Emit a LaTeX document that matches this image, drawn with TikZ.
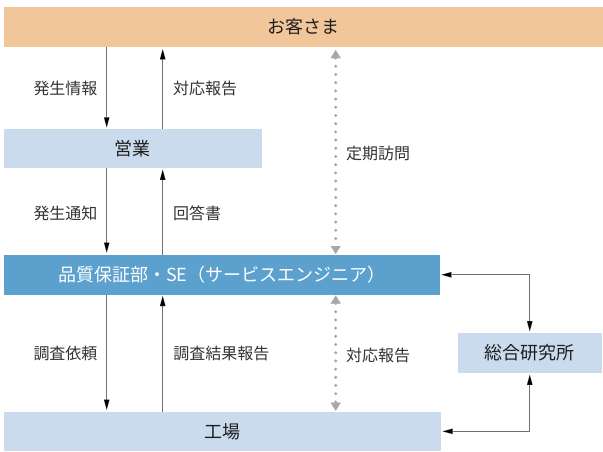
\documentclass[tikz,border=0pt]{standalone}
\usepackage{fontspec}
\setmainfont{Noto Sans CJK JP}
\usetikzlibrary{arrows.meta}
\definecolor{custc}{HTML}{F0C69A}
\definecolor{lightb}{HTML}{C9DBEC}
\definecolor{midb}{HTML}{5CA1CD}
\definecolor{txt}{HTML}{1E1E1E}
\definecolor{lbl}{HTML}{333333}
\definecolor{arrline}{HTML}{707070}
\definecolor{dotc}{HTML}{A8A8A8}
\tikzset{
  box/.style={inner sep=0pt, outer sep=0pt, text=txt, font=\fontsize{18}{20}\selectfont},
  lab/.style={inner sep=0pt, text=lbl, font=\fontsize{16}{18}\selectfont},
  arr/.style={draw=arrline, line width=1.1pt, -{Triangle[length=10pt,width=5.5pt,line width=0.01pt,fill=black]}},
  arrboth/.style={draw=arrline, line width=1.1pt, {Triangle[length=10pt,width=5.5pt,line width=0.01pt,fill=black]}-{Triangle[length=10pt,width=5.5pt,line width=0.01pt,fill=black]}},
  dotarr/.style={draw=dotc, line width=3.3pt, line cap=round, dash pattern=on 0pt off 8.2pt,
    {Triangle[length=8pt,width=10pt,line width=0.01pt,fill=dotc]}-{Triangle[length=8pt,width=10pt,line width=0.01pt,fill=dotc]}}
}
\begin{document}
\begin{tikzpicture}[x=1pt,y=-1pt]
\useasboundingbox (0,0) rectangle (603,451);
% boxes
\node[box, fill=custc, minimum width=599.5pt, minimum height=39.5pt] (cust) at (303.25,27) {お客さま};
\node[box, fill=lightb, minimum width=258.2pt, minimum height=39pt] (sales) at (132.6,148.8) {営業};
\node[box, fill=midb, text=white, minimum width=436.5pt, minimum height=39.5pt] (qa) at (221.75,274.75) {品質保証部・SE（サービスエンジニア）};
\node[box, fill=lightb, minimum width=437.2pt, minimum height=39.3pt] (fac) at (222.1,431.35) {工場};
\node[box, fill=lightb, minimum width=143.5pt, minimum height=40.6pt] (rlab) at (529.75,353) {総合研究所};
% x positions
\coordinate (xd) at (106.7,0);
\coordinate (xu) at (162.7,0);
\coordinate (xdot) at (335.7,0);
% solid arrows
\draw[arr, shorten >=2pt] (cust.south -| xd) -- (sales.north -| xd);
\draw[arr, shorten >=2.5pt] (sales.north -| xu) -- (cust.south -| xu);
\draw[arr, shorten >=2.5pt] (sales.south -| xd) -- (qa.north -| xd);
\draw[arr, shorten >=1.5pt] (qa.north -| xu) -- (sales.south -| xu);
\draw[arr, shorten >=2pt] (qa.south -| xd) -- (fac.north -| xd);
\draw[arr, shorten >=1.5pt] (fac.north -| xu) -- (qa.south -| xu);
\draw[arrboth, shorten <=1.5pt, shorten >=1.5pt] (qa.east) -| (rlab.north);
\draw[arrboth, shorten <=1.5pt, shorten >=2pt] (rlab.south) |- (fac.east);
% dotted arrows
\draw[dotarr, shorten <=3.3pt, shorten >=1pt] (cust.south -| xdot) -- (qa.north -| xdot);
\draw[dotarr, shorten <=1pt, shorten >=1pt] (qa.south -| xdot) -- (fac.north -| xdot);
% labels
\node[lab] (l1) at (65.5,88.3) {発生情報};
\node[lab] (l2) at (205,88.3) {対応報告};
\node[lab] (l3) at (378,153.3) {定期訪問};
\node[lab] (l4) at (65.5,213.3) {発生通知};
\node[lab] (l5) at (197,213.3) {回答書};
\node[lab] (l6) at (65.5,353.3) {調査依頼};
\node[lab] (l7) at (221.3,353.3) {調査結果報告};
\node[lab] (l8) at (378,355) {対応報告};
\end{tikzpicture}
\end{document}
